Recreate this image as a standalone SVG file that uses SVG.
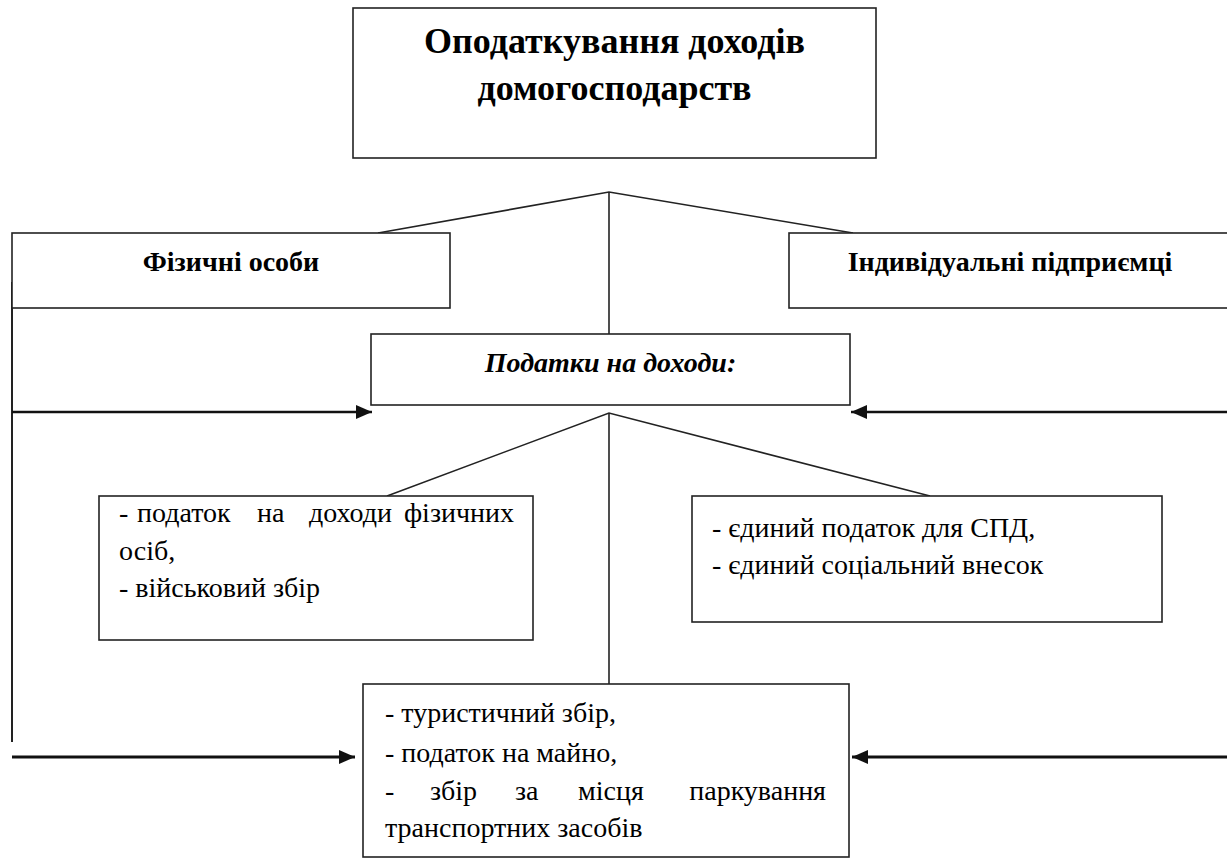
<svg xmlns="http://www.w3.org/2000/svg" width="1227" height="859" viewBox="0 0 1227 859">
<style>
.box{fill:#fff;stroke:#222;stroke-width:1.6}
.ln{fill:none;stroke:#222;stroke-width:1.6}
.ar{fill:none;stroke:#111;stroke-width:2.4}
text,tspan{font-family:'Liberation Serif',serif !important}
</style>
<defs>
<marker id="ah" markerUnits="userSpaceOnUse" markerWidth="16" markerHeight="14" refX="16" refY="7" orient="auto">
<path d="M0,0 L16,7 L0,14 z" fill="#111"/>
</marker>
</defs>
<rect width="1227" height="859" fill="#fff"/>
<g id="connectors">
<polyline class="ln" points="378,233 609,192 853,233"/>
<line class="ln" x1="609" y1="192" x2="609" y2="334"/>
<polyline class="ln" points="387,496 609,413 930,496"/>
<line class="ln" x1="609" y1="413" x2="609" y2="684"/>
<line class="ln" x1="12" y1="282" x2="12" y2="742" style="stroke-width:2"/>
<line class="ar" x1="12" y1="412" x2="372" y2="412" marker-end="url(#ah)"/>
<line class="ar" x1="1227" y1="412" x2="851" y2="412" marker-end="url(#ah)"/>
<line class="ar" x1="12" y1="757" x2="355" y2="757" marker-end="url(#ah)" style="stroke-width:3"/>
<line class="ar" x1="1227" y1="757" x2="852" y2="757" marker-end="url(#ah)" style="stroke-width:3"/>
</g>
<g id="n-title">
<rect class="box" x="353" y="8" width="523" height="150"/>
<text style="font-family:'Liberation Serif',serif;font-size:36px;font-weight:bold" text-anchor="middle" x="614.5" y="53">Оподаткування доходів</text>
<text style="font-family:'Liberation Serif',serif;font-size:36px;font-weight:bold" text-anchor="middle" x="614.5" y="100">домогосподарств</text>
</g>
<g id="n-fiz">
<rect class="box" x="12" y="233" width="438" height="75"/>
<text style="font-family:'Liberation Serif',serif;font-size:28px;font-weight:bold" text-anchor="middle" x="231" y="271">Фізичні особи</text>
</g>
<g id="n-ind">
<rect class="box" x="789" y="233" width="443" height="75"/>
<text style="font-family:'Liberation Serif',serif;font-size:28px;font-weight:bold" text-anchor="middle" x="1010" y="271">Індивідуальні підприємці</text>
</g>
<g id="n-podatky">
<rect class="box" x="371" y="334" width="479" height="71"/>
<text style="font-family:'Liberation Serif',serif;font-size:28px;font-weight:bold;font-style:italic" text-anchor="middle" x="610.5" y="372">Податки на доходи:</text>
</g>
<g id="n-fizpod">
<rect class="box" x="99" y="496" width="434" height="144"/>
<text style="font-family:'Liberation Serif',serif;font-size:28px" y="522"><tspan x="119">-</tspan><tspan x="137">податок</tspan><tspan x="257">на</tspan><tspan x="309">доходи</tspan></text>
<text style="font-family:'Liberation Serif',serif;font-size:28px" text-anchor="end" x="514" y="522">фізичних</text>
<text style="font-family:'Liberation Serif',serif;font-size:28px" x="119" y="560">осіб,</text>
<text style="font-family:'Liberation Serif',serif;font-size:28px" x="119" y="597">- військовий збір</text>
</g>
<g id="n-indpod">
<rect class="box" x="692" y="496" width="470" height="126"/>
<text style="font-family:'Liberation Serif',serif;font-size:28px" x="712" y="537">- єдиний податок для СПД,</text>
<text style="font-family:'Liberation Serif',serif;font-size:28px" x="712" y="574">- єдиний соціальний внесок</text>
</g>
<g id="n-misc">
<rect class="box" x="363" y="684" width="486" height="173"/>
<text style="font-family:'Liberation Serif',serif;font-size:28px" x="385" y="722">- туристичний збір,</text>
<text style="font-family:'Liberation Serif',serif;font-size:28px" x="385" y="762">- податок на майно,</text>
<text style="font-family:'Liberation Serif',serif;font-size:28px" y="800"><tspan x="385">-</tspan><tspan x="430">збір</tspan><tspan x="515">за</tspan><tspan x="578">місця</tspan></text>
<text style="font-family:'Liberation Serif',serif;font-size:28px" text-anchor="end" x="826" y="800">паркування</text>
<text style="font-family:'Liberation Serif',serif;font-size:28px" x="385" y="837">транспортних засобів</text>
</g>
</svg>
